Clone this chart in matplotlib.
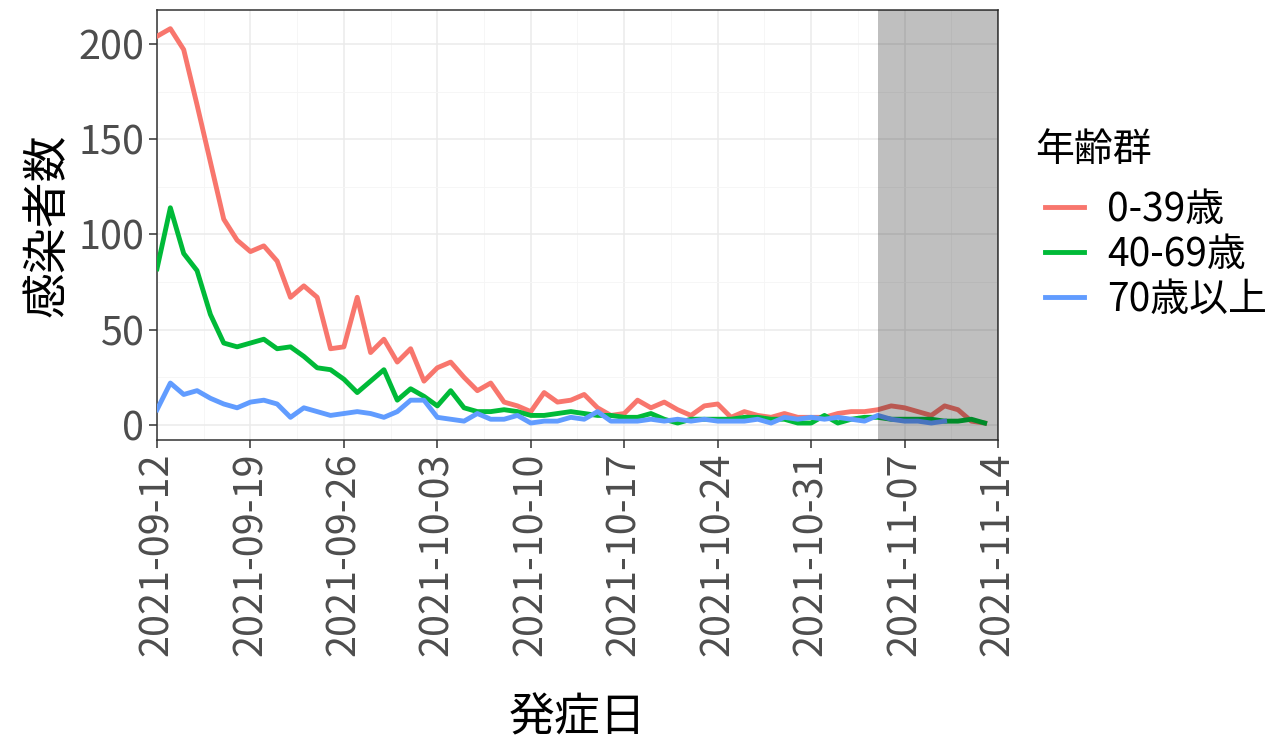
import numpy as np
import pandas as pd
import matplotlib
matplotlib.use("Agg")
import matplotlib.pyplot as plt

plt.rcParams['font.family'] = ['Noto Sans CJK JP', 'DejaVu Sans']

start = "2021-09-12"
groups = ["0-39歳", "40-69歳", "70歳以上"]
colors = ["#F8766D", "#00BA38", "#619CFF"]

age_0_39 = [204, 208, 197, 168, 138, 108, 97, 91, 94, 86, 67, 73, 67, 40, 41, 67,
            38, 45, 33, 40, 23, 30, 33, 25, 18, 22, 12, 10, 7, 17, 12, 13, 16, 9,
            5, 6, 13, 9, 12, 8, 5, 10, 11, 4, 7, 5, 4, 6, 4, 4, 4, 6, 7, 7, 8, 10,
            9, 7, 5, 10, 8, 2, 1]
age_40_69 = [82, 114, 90, 81, 58, 43, 41, 43, 45, 40, 41, 36, 30, 29, 24, 17, 23,
             29, 13, 19, 15, 10, 18, 9, 7, 7, 8, 7, 5, 5, 6, 7, 6, 5, 5, 4, 4, 6,
             3, 1, 3, 3, 3, 3, 4, 4, 3, 3, 1, 1, 5, 1, 3, 4, 4, 3, 3, 3, 3, 2, 2,
             3, 1]
age_70_up = [8, 22, 16, 18, 14, 11, 9, 12, 13, 11, 4, 9, 7, 5, 6, 7, 6, 4, 7, 13,
             13, 4, 3, 2, 6, 3, 3, 5, 1, 2, 2, 4, 3, 7, 2, 2, 2, 3, 2, 3, 2, 3, 2,
             2, 2, 3, 1, 4, 3, 4, 3, 4, 3, 2, 5, 3, 2, 2, 1, 2]

shade_from = "2021-11-05"
x_limits = ["2021-09-12", "2021-11-14"]

fig = plt.figure(figsize=(12.7, 7.44), dpi=100)
ax = fig.add_axes([157 / 1270, 1 - 440 / 744, (998 - 157) / 1270, 430 / 744])

for vals, lab, col in zip([age_0_39, age_40_69, age_70_up], groups, colors):
    d = pd.date_range(start, periods=len(vals), freq="D")
    ax.plot(d, vals, color=col, lw=3.5, label=lab, zorder=3)

ax.axvspan(pd.Timestamp(shade_from), pd.Timestamp(x_limits[1]),
           color="black", alpha=0.25, lw=0, zorder=4)

ax.set_xlim(pd.Timestamp(x_limits[0]), pd.Timestamp(x_limits[1]))
ax.set_ylim(-7.9, 217.8)

major = pd.date_range(x_limits[0], x_limits[1], freq="7D")
ax.set_xticks(major)
ax.set_xticklabels([d.strftime("%Y-%m-%d") for d in major], rotation=90)
ax.set_xticks(major[:-1] + pd.Timedelta(hours=84), minor=True)
ax.set_yticks([0, 50, 100, 150, 200])
ax.set_yticks([25, 75, 125, 175], minor=True)

ax.grid(True, which="major", color="#EBEBEB", lw=1.1, zorder=0)
ax.grid(True, which="minor", color="#F5F5F5", lw=0.6, zorder=0)
ax.set_axisbelow(True)
ax.tick_params(axis="both", which="major", length=6, width=1.1, color="#333333",
               labelsize=28.5, labelcolor="#4D4D4D", pad=3)
ax.tick_params(which="minor", length=0)
for s in ax.spines.values():
    s.set_color("#333333")
    s.set_linewidth(1.1)

ax.set_xlabel("発症日", fontsize=33)
ax.set_ylabel("感染者数", fontsize=33)
ax.xaxis.set_label_coords(0.5, (440 - 694) / 430)
ax.yaxis.set_label_coords((72 - 157) / 841, 0.5)

fig.text(1035 / 1270, 1 - 150 / 744, "年齢群", fontsize=28, ha="left", va="center")
leg = ax.legend(loc="upper left",
                bbox_to_anchor=(1045 / 1270, 1 - 190 / 744),
                bbox_transform=fig.transFigure, borderpad=0, borderaxespad=0,
                frameon=False, fontsize=28, handlelength=1.0,
                handletextpad=0.6, labelspacing=0.12)
for h in leg.get_lines():
    h.set_linewidth(3.5)

fig.savefig("out.png", dpi=100)
